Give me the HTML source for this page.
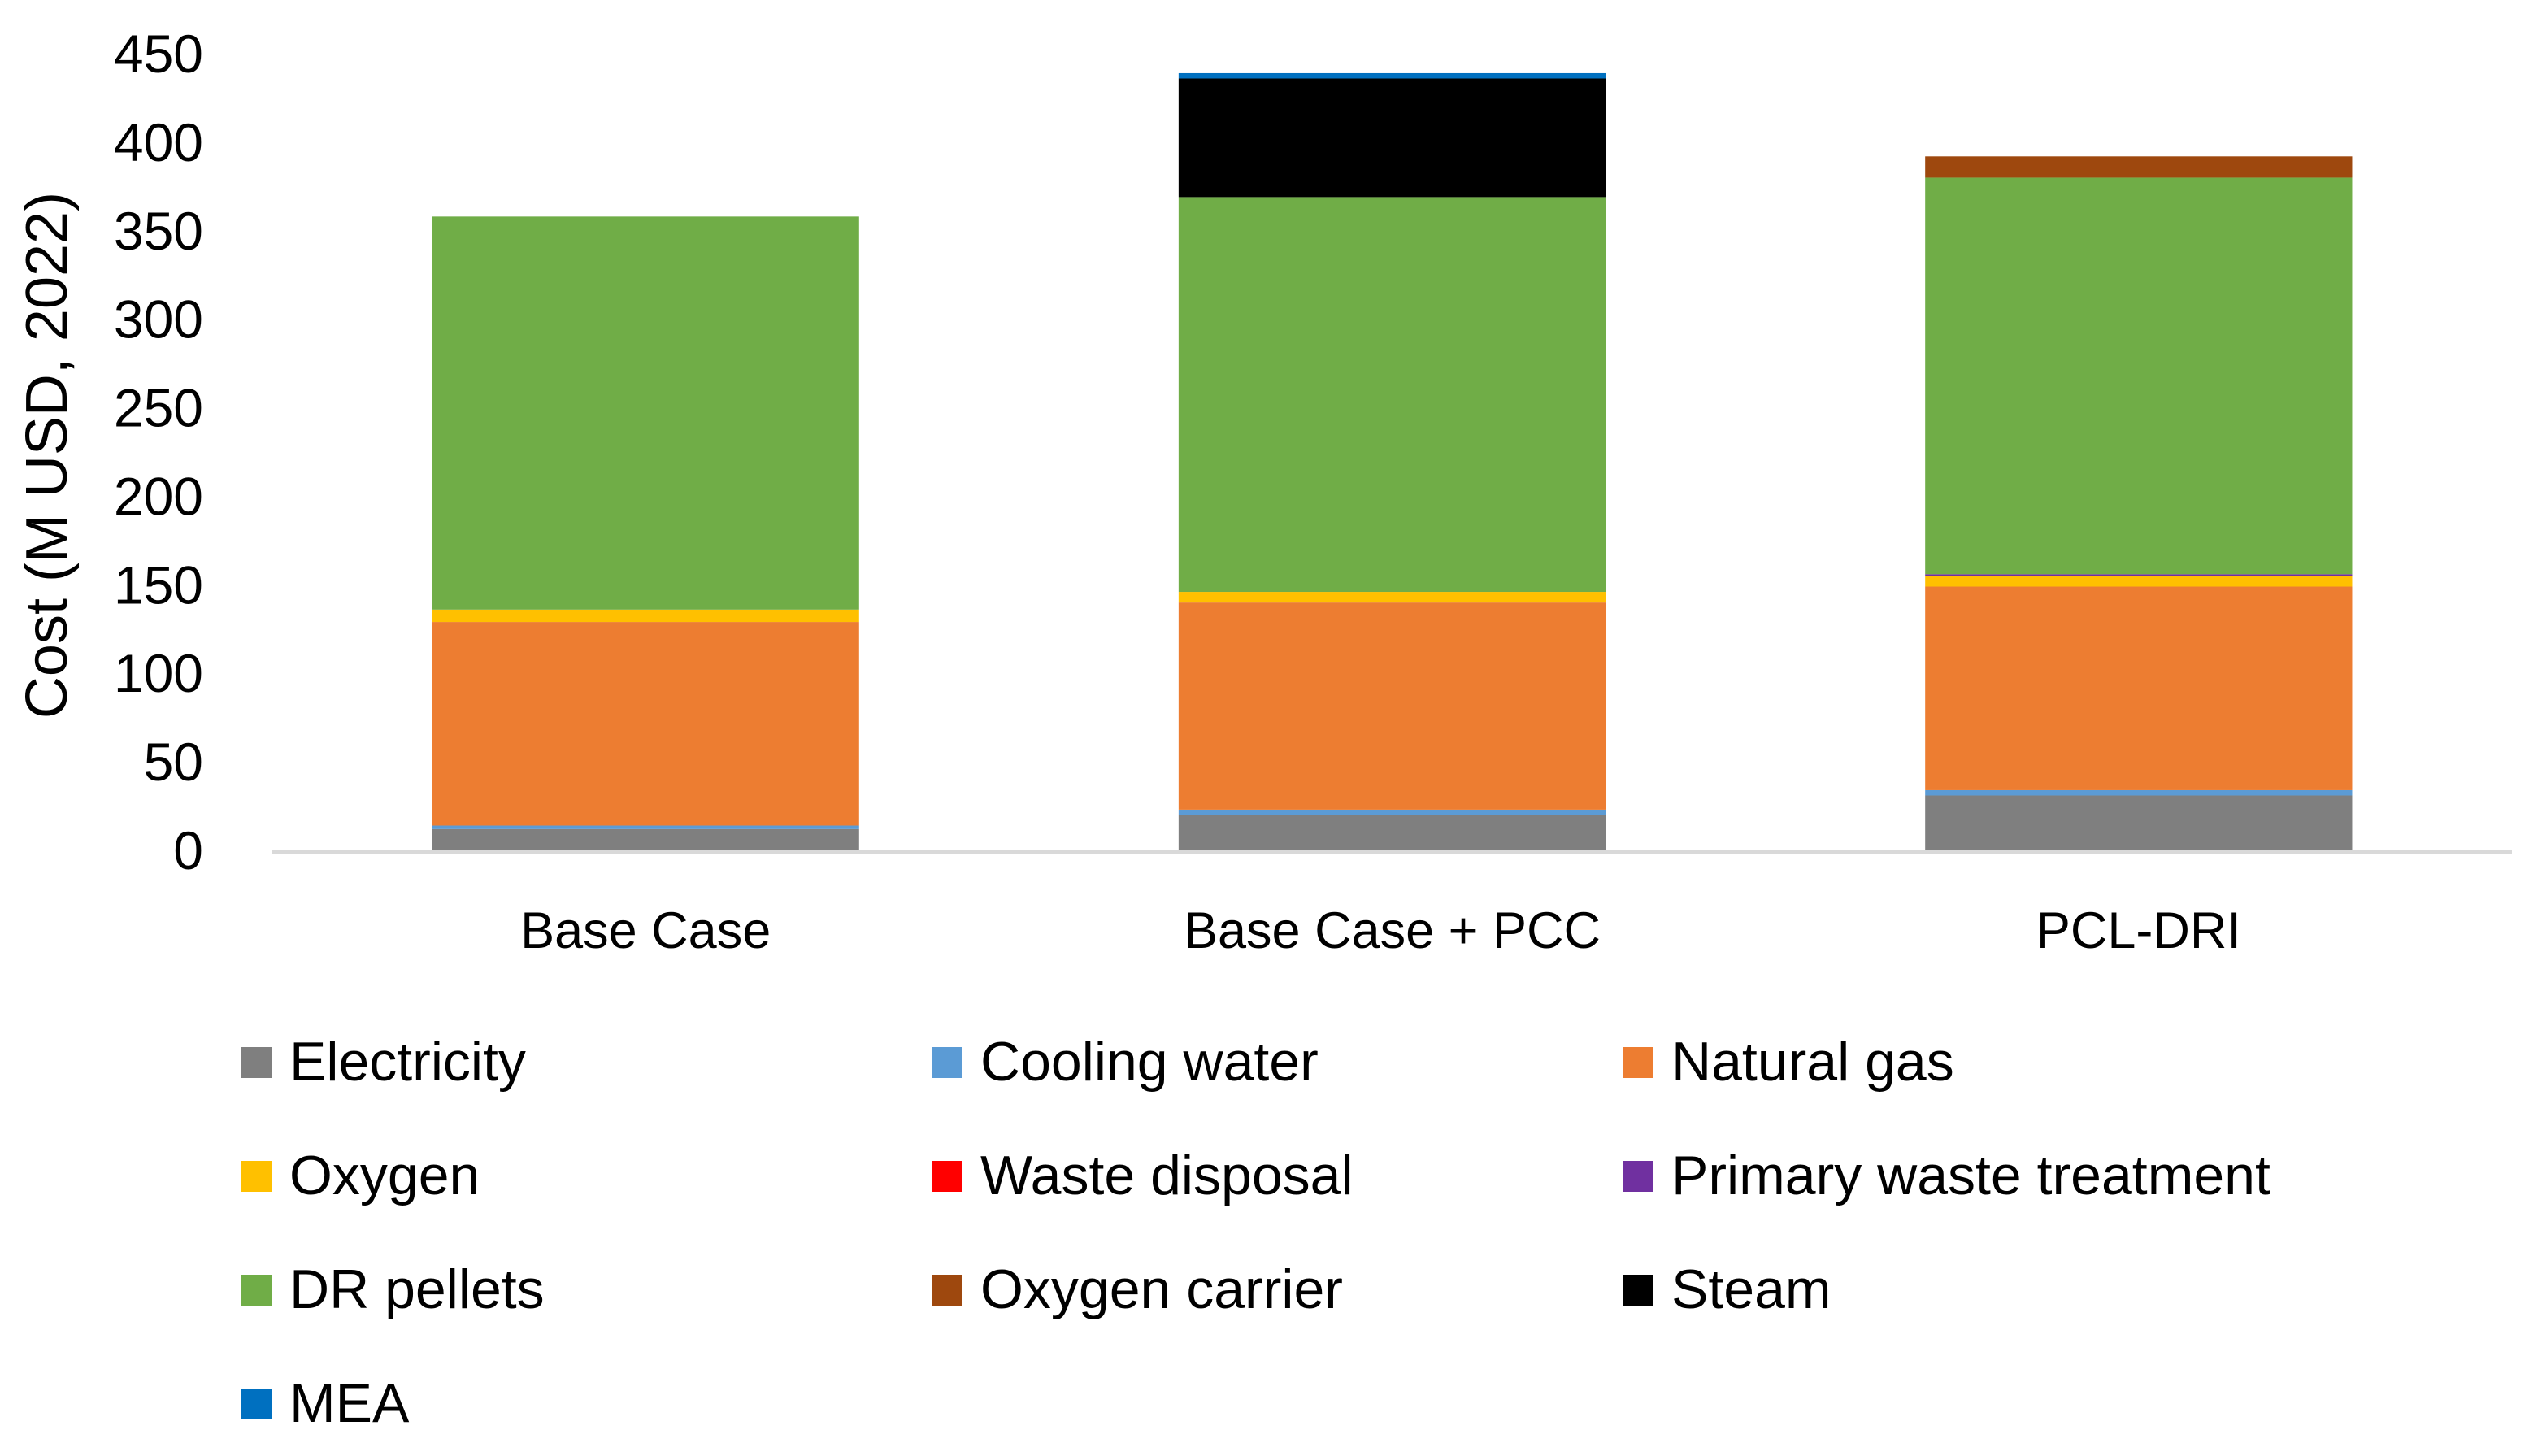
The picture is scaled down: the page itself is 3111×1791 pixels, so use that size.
<!DOCTYPE html>
<html><head><meta charset="utf-8"><style>
html,body{margin:0;padding:0;background:#fff;}
svg{display:block;font-family:"Liberation Sans",sans-serif;}
</style></head><body>
<svg id="chart" width="3111" height="1791" viewBox="0 0 3111 1791">
<g id="plot"></g>
<g id="legend"></g>
<text transform="translate(82,560) rotate(-90)" text-anchor="middle" font-size="72" fill="#000">Cost (M USD, 2022)</text>
</svg>
<script>
const categories = ["Base Case", "Base Case + PCC", "PCL-DRI"];
const seriesNames = ["Electricity","Cooling water","Natural gas","Oxygen","Waste disposal","Primary waste treatment","DR pellets","Oxygen carrier","Steam","MEA"];
const seriesColors = ["#7f7f7f","#5b9bd5","#ed7d31","#ffc000","#ff0000","#7030a0","#70ad47","#9e480e","#000000","#0070c0"];
const electricity = [12, 20, 31];
const coolingWater = [2, 3, 3];
const naturalGas = [115, 117, 115];
const oxygen = [7, 6, 6];
const wasteDisposal = [0, 0, 0];
const primaryWaste = [0, 0, 1];
const drPellets = [222, 223, 224];
const oxygenCarrier = [0, 0, 12];
const steam = [0, 67, 0];
const mea = [0, 3, 0];
const yTicks = [0, 50, 100, 150, 200, 250, 300, 350, 400, 450];

const series = [electricity, coolingWater, naturalGas, oxygen, wasteDisposal, primaryWaste, drPellets, oxygenCarrier, steam, mea];
const NS = "http://www.w3.org/2000/svg";
const plotL = 335, plotR = 3090, y0px = 1046, y450px = 66;
const yScale = v => y0px - (v / 450) * (y0px - y450px);
const band = (plotR - plotL) / categories.length;
const xCenter = i => plotL + band * (i + 0.5);
const barW = band * 0.572;
const plot = document.getElementById('plot');
function mk(tag, attrs, parent){const e=document.createElementNS(NS,tag);for(const k in attrs)e.setAttribute(k,attrs[k]);parent.appendChild(e);return e;}

yTicks.forEach(t=>{
  const tx = mk('text',{x:250,y:yScale(t)+23,'text-anchor':'end','font-size':66,fill:'#000'},plot);
  
  
  tx.textContent = t;
});

categories.forEach((c,i)=>{
  let acc = 0;
  series.forEach((s,k)=>{
    const v = s[i];
    if(v<=0) return;
    const r = mk('rect',{x:xCenter(i)-barW/2,y:yScale(acc+v),width:barW,height:yScale(acc)-yScale(acc+v),fill:seriesColors[k]},plot);
    
    
    acc += v;
  });
  const lb = mk('text',{x:xCenter(i),y:1166,'text-anchor':'middle','font-size':63,fill:'#000'},plot);
  
  
  lb.textContent = c;
});

const axis = mk('line',{x1:plotL,x2:plotR,y1:y0px+2,y2:y0px+2,stroke:'#d9d9d9','stroke-width':4},plot);



const legend = document.getElementById('legend');
const colX = [296, 1146, 1996], rowY = [1306, 1446, 1586, 1726];
seriesNames.forEach((n,k)=>{
  const col = k % 3, row = Math.floor(k / 3);
  const g = mk('g',{},legend);
  
  
  mk('rect',{x:colX[col],y:rowY[row]-18,width:38,height:38,fill:seriesColors[k]},g);
  const t = mk('text',{x:colX[col]+60,y:rowY[row]+23,'font-size':68,fill:'#000'},g);
  t.textContent = n;
});
</script>
</body></html>
